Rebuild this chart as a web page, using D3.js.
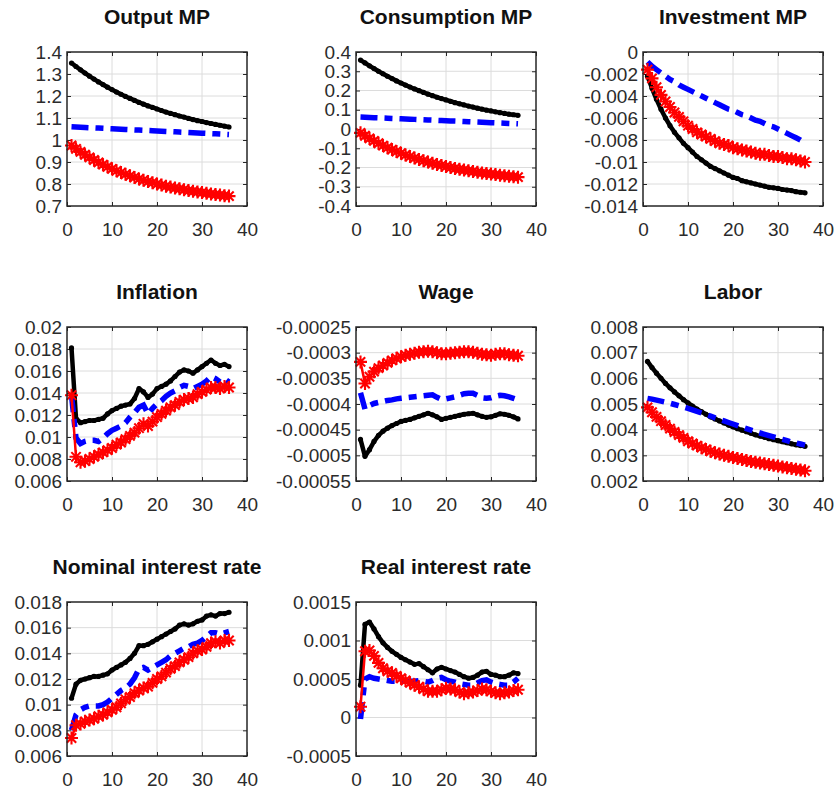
<!DOCTYPE html>
<html>
<head>
<meta charset="utf-8">
<script src="https://cdn.jsdelivr.net/npm/d3@7"></script>
<style>
  body { margin: 0; background: #fff; }
  svg text { font-family: "Liberation Sans", Arial, sans-serif; }
</style>
</head>
<body>
<div id="chart"></div>
<script>
/* Impulse responses, three model variants, 3x3 grid of small panels */

// periods after the shock
const horizon = [1, 2, 3, 4, 5, 6, 7, 8, 9, 10, 11, 12, 13, 14, 15, 16, 17, 18,
                 19, 20, 21, 22, 23, 24, 25, 26, 27, 28, 29, 30, 31, 32, 33, 34, 35, 36];
const xTicks = [0, 10, 20, 30, 40];

// ---- Output MP
const outputTicks = [0.7, 0.8, 0.9, 1, 1.1, 1.2, 1.3, 1.4];
const outputLabels = ["0.7", "0.8", "0.9", "1", "1.1", "1.2", "1.3", "1.4"];
const outputBlack = [1.350, 1.334, 1.319, 1.304, 1.290, 1.277, 1.264, 1.252, 1.240, 1.229, 1.218, 1.208, 1.198, 1.189, 1.180, 1.171, 1.163, 1.155,
                     1.148, 1.141, 1.134, 1.127, 1.121, 1.115, 1.109, 1.104, 1.098, 1.093, 1.088, 1.084, 1.079, 1.075, 1.071, 1.067, 1.063, 1.059];
const outputBlue = [1.060, 1.059, 1.058, 1.057, 1.056, 1.055, 1.054, 1.053, 1.052, 1.051, 1.050, 1.049, 1.048, 1.047, 1.046, 1.045, 1.044, 1.043,
                    1.042, 1.041, 1.040, 1.039, 1.038, 1.037, 1.036, 1.035, 1.034, 1.033, 1.032, 1.031, 1.030, 1.029, 1.028, 1.027, 1.026, 1.025];
const outputRed = [0.975, 0.960, 0.946, 0.933, 0.921, 0.909, 0.898, 0.888, 0.878, 0.869, 0.860, 0.852, 0.844, 0.837, 0.830, 0.823, 0.817, 0.811,
                   0.806, 0.800, 0.795, 0.790, 0.786, 0.782, 0.778, 0.774, 0.770, 0.767, 0.764, 0.761, 0.758, 0.755, 0.752, 0.750, 0.747, 0.745];

// ---- Consumption MP
const consTicks = [-0.4, -0.3, -0.2, -0.1, 0, 0.1, 0.2, 0.3, 0.4];
const consLabels = ["-0.4", "-0.3", "-0.2", "-0.1", "0", "0.1", "0.2", "0.3", "0.4"];
const consBlack = [0.358, 0.343, 0.328, 0.314, 0.300, 0.287, 0.274, 0.262, 0.250, 0.239, 0.228, 0.218, 0.208, 0.199, 0.190, 0.181, 0.173, 0.165,
                   0.158, 0.151, 0.144, 0.137, 0.131, 0.125, 0.119, 0.114, 0.108, 0.103, 0.098, 0.094, 0.089, 0.085, 0.081, 0.077, 0.074, 0.071];
const consBlue = [0.062, 0.061, 0.060, 0.059, 0.058, 0.057, 0.056, 0.055, 0.054, 0.053, 0.052, 0.051, 0.050, 0.049, 0.048, 0.047, 0.046, 0.045,
                  0.044, 0.043, 0.042, 0.041, 0.040, 0.039, 0.038, 0.037, 0.036, 0.035, 0.034, 0.033, 0.032, 0.031, 0.030, 0.029, 0.028, 0.027];
const consRed = [-0.020, -0.035, -0.049, -0.062, -0.074, -0.086, -0.097, -0.107, -0.117, -0.126, -0.135, -0.143, -0.151, -0.158, -0.165, -0.172, -0.178, -0.184,
                 -0.189, -0.195, -0.200, -0.205, -0.209, -0.213, -0.217, -0.221, -0.225, -0.228, -0.231, -0.234, -0.237, -0.240, -0.243, -0.245, -0.248, -0.250];

// ---- Investment MP
const invTicks = [-0.014, -0.012, -0.01, -0.008, -0.006, -0.004, -0.002, 0];
const invLabels = ["-0.014", "-0.012", "-0.01", "-0.008", "-0.006", "-0.004", "-0.002", "0"];
const invBlack = [-0.0022, -0.0033, -0.0043, -0.0052, -0.0060, -0.0067, -0.0073, -0.0078, -0.0083, -0.0087, -0.0091, -0.0095, -0.0098, -0.0101, -0.0104, -0.0106, -0.0108, -0.0110,
                  -0.0112, -0.0114, -0.0115, -0.0117, -0.0118, -0.0119, -0.0120, -0.0121, -0.0122, -0.0123, -0.01235, -0.0124, -0.0125, -0.01255, -0.0126, -0.0127, -0.01275, -0.0128];
const invBlue = [-0.0009, -0.0013, -0.0016, -0.0019, -0.0022, -0.0025, -0.0027, -0.0030, -0.0032, -0.0034, -0.0036, -0.0038, -0.0040, -0.0042, -0.0044, -0.0046, -0.0048, -0.0050,
                 -0.0052, -0.0053, -0.0055, -0.0057, -0.0058, -0.0060, -0.0062, -0.0063, -0.0065, -0.0067, -0.0068, -0.0070, -0.0072, -0.0074, -0.0076, -0.0078, -0.0080, -0.0083];
const invRed = [-0.0016, -0.0024, -0.0032, -0.0039, -0.0045, -0.0050, -0.0055, -0.0059, -0.0063, -0.0067, -0.0070, -0.0073, -0.0075, -0.0077, -0.0079, -0.0081, -0.0083, -0.0084,
                -0.0085, -0.0087, -0.0088, -0.0089, -0.0090, -0.0091, -0.0092, -0.0093, -0.0093, -0.0094, -0.0095, -0.0095, -0.0096, -0.0097, -0.0097, -0.0098, -0.0099, -0.0100];

// ---- Inflation
const inflTicks = [0.006, 0.008, 0.01, 0.012, 0.014, 0.016, 0.018, 0.02];
const inflLabels = ["0.006", "0.008", "0.01", "0.012", "0.014", "0.016", "0.018", "0.02"];
const inflBlack = [0.0181, 0.0117, 0.0113, 0.0114, 0.0115, 0.0115, 0.0116, 0.0117, 0.0121, 0.0124, 0.0126, 0.0128, 0.0129, 0.0130, 0.0135, 0.0144, 0.0141, 0.0136,
                   0.0139, 0.0144, 0.0146, 0.0148, 0.0151, 0.0155, 0.0159, 0.0161, 0.0160, 0.0158, 0.0161, 0.0164, 0.0167, 0.0170, 0.0167, 0.0165, 0.0166, 0.0164];
const inflBlue = [0.0138, 0.0099, 0.0094, 0.0096, 0.0097, 0.0097, 0.0096, 0.0099, 0.0103, 0.0106, 0.0108, 0.0110, 0.0113, 0.0118, 0.0122, 0.0127, 0.0129, 0.0121,
                  0.0126, 0.0130, 0.0133, 0.0137, 0.0140, 0.0142, 0.0145, 0.0147, 0.0146, 0.0144, 0.0146, 0.0148, 0.0151, 0.0155, 0.0153, 0.0150, 0.0153, 0.0150];
const inflRed = [0.0138, 0.0082, 0.0077, 0.0078, 0.0080, 0.0082, 0.0084, 0.0086, 0.0088, 0.0090, 0.0093, 0.0095, 0.0098, 0.0101, 0.0104, 0.0108, 0.0112, 0.0110,
                 0.0114, 0.0118, 0.0121, 0.0124, 0.0127, 0.0129, 0.0132, 0.0134, 0.0135, 0.0136, 0.0139, 0.0141, 0.0143, 0.0145, 0.0145, 0.0144, 0.0146, 0.0145];

// ---- Wage
const wageTicks = [-0.00055, -0.0005, -0.00045, -0.0004, -0.00035, -0.0003, -0.00025];
const wageLabels = ["-0.00055", "-0.0005", "-0.00045", "-0.0004", "-0.00035", "-0.0003", "-0.00025"];
const wageBlack = [-0.000469, -0.000502, -0.000489, -0.000473, -0.000461, -0.000453, -0.000447, -0.000442, -0.000438, -0.000434, -0.000432, -0.000430, -0.000427, -0.000424, -0.000421, -0.000418, -0.000421, -0.000425,
                   -0.000430, -0.000428, -0.000426, -0.000424, -0.000422, -0.000420, -0.000419, -0.000418, -0.000421, -0.000424, -0.000426, -0.000425, -0.000422, -0.000419, -0.000420, -0.000422, -0.000425, -0.000429];
const wageBlue = [-0.000378, -0.000410, -0.000403, -0.000399, -0.000397, -0.000395, -0.000393, -0.000392, -0.000390, -0.000389, -0.000388, -0.000387, -0.000386, -0.000385, -0.000384, -0.000383, -0.000382, -0.000387,
                  -0.000391, -0.000390, -0.000388, -0.000386, -0.000383, -0.000380, -0.000379, -0.000379, -0.000383, -0.000388, -0.000389, -0.000388, -0.000385, -0.000383, -0.000384, -0.000386, -0.000389, -0.000392];
const wageRed = [-0.000318, -0.000360, -0.000347, -0.000337, -0.000330, -0.000325, -0.000320, -0.000315, -0.000311, -0.000308, -0.000305, -0.000303, -0.000301, -0.000299, -0.000298, -0.000297, -0.000298, -0.000300,
                 -0.000302, -0.000302, -0.000301, -0.000300, -0.000299, -0.000298, -0.000298, -0.000299, -0.000301, -0.000303, -0.000304, -0.000305, -0.000303, -0.000302, -0.000302, -0.000304, -0.000305, -0.000306];

// ---- Labor
const laborTicks = [0.002, 0.003, 0.004, 0.005, 0.006, 0.007, 0.008];
const laborLabels = ["0.002", "0.003", "0.004", "0.005", "0.006", "0.007", "0.008"];
const laborBlack = [0.00666, 0.00642, 0.00620, 0.00600, 0.00580, 0.00563, 0.00547, 0.00532, 0.00517, 0.00504, 0.00492, 0.00480, 0.00470, 0.00460, 0.00450, 0.00442, 0.00434, 0.00426,
                    0.00418, 0.00411, 0.00404, 0.00398, 0.00392, 0.00386, 0.00380, 0.00375, 0.00370, 0.00365, 0.00361, 0.00357, 0.00353, 0.00349, 0.00345, 0.00341, 0.00338, 0.00335];
const laborBlue = [0.00522, 0.00519, 0.00515, 0.00511, 0.00507, 0.00503, 0.00498, 0.00493, 0.00488, 0.00483, 0.00477, 0.00471, 0.00465, 0.00459, 0.00453, 0.00446, 0.00440, 0.00434,
                   0.00428, 0.00422, 0.00416, 0.00410, 0.00404, 0.00398, 0.00392, 0.00387, 0.00382, 0.00377, 0.00372, 0.00367, 0.00362, 0.00357, 0.00352, 0.00348, 0.00344, 0.00340];
const laborRed = [0.00487, 0.00468, 0.00450, 0.00433, 0.00418, 0.00404, 0.00391, 0.00379, 0.00368, 0.00355, 0.00346, 0.00338, 0.00330, 0.00323, 0.00316, 0.00310, 0.00305, 0.00300,
                  0.00296, 0.00292, 0.00288, 0.00284, 0.00280, 0.00276, 0.00273, 0.00270, 0.00267, 0.00264, 0.00261, 0.00258, 0.00255, 0.00252, 0.00249, 0.00246, 0.00243, 0.00240];

// ---- Nominal interest rate
const nomTicks = [0.006, 0.008, 0.01, 0.012, 0.014, 0.016, 0.018];
const nomLabels = ["0.006", "0.008", "0.01", "0.012", "0.014", "0.016", "0.018"];
const nomBlack = [0.0105, 0.0116, 0.0119, 0.0120, 0.0121, 0.0122, 0.0122, 0.0123, 0.0124, 0.0127, 0.0129, 0.0131, 0.0133, 0.0136, 0.0140, 0.0146, 0.0146, 0.0147,
                  0.0149, 0.0151, 0.0153, 0.0155, 0.0157, 0.0159, 0.0162, 0.0163, 0.0162, 0.0163, 0.0165, 0.0166, 0.0169, 0.0170, 0.0169, 0.0171, 0.0171, 0.0172];
const nomBlue = [0.0080, 0.0092, 0.0096, 0.0098, 0.0099, 0.0099, 0.0099, 0.0100, 0.0102, 0.0105, 0.0108, 0.0111, 0.0113, 0.0116, 0.0121, 0.0128, 0.0129, 0.0127,
                 0.0129, 0.0131, 0.0133, 0.0135, 0.0138, 0.0140, 0.0142, 0.0144, 0.0145, 0.0147, 0.0148, 0.0150, 0.0153, 0.0156, 0.0156, 0.0155, 0.0156, 0.0157];
const nomRed = [0.0074, 0.0084, 0.0085, 0.0087, 0.0088, 0.0089, 0.0091, 0.0092, 0.0094, 0.0096, 0.0098, 0.0101, 0.0104, 0.0106, 0.0109, 0.0111, 0.0113, 0.0114,
                0.0117, 0.0120, 0.0122, 0.0125, 0.0128, 0.0130, 0.0133, 0.0135, 0.0137, 0.0140, 0.0142, 0.0143, 0.0145, 0.0148, 0.0149, 0.0148, 0.0150, 0.0150];

// ---- Real interest rate
const realTicks = [-0.0005, 0, 0.0005, 0.001, 0.0015];
const realLabels = ["-0.0005", "0", "0.0005", "0.001", "0.0015"];
const realBlack = [0.00042, 0.00121, 0.00124, 0.00115, 0.00105, 0.00097, 0.00091, 0.00086, 0.00082, 0.00078, 0.00075, 0.00072, 0.00069, 0.00070, 0.00066, 0.00062, 0.00058, 0.00063,
                   0.00065, 0.00063, 0.00061, 0.00059, 0.00056, 0.00053, 0.00051, 0.00052, 0.00055, 0.00059, 0.00060, 0.00056, 0.00055, 0.00053, 0.00053, 0.00055, 0.00058, 0.00057];
const realBlue = [-0.00002, 0.00050, 0.00053, 0.00051, 0.00050, 0.00049, 0.00048, 0.00047, 0.00047, 0.00047, 0.00047, 0.00047, 0.00047, 0.00048, 0.00047, 0.00046, 0.00048, 0.00051,
                  0.00052, 0.00049, 0.00047, 0.00046, 0.00044, 0.00043, 0.00042, 0.00042, 0.00045, 0.00048, 0.00049, 0.00046, 0.00044, 0.00043, 0.00042, 0.00042, 0.00046, 0.00051];
const realRed = [0.00014, 0.00086, 0.00087, 0.00080, 0.00071, 0.00064, 0.00060, 0.00058, 0.00054, 0.00051, 0.00048, 0.00045, 0.00042, 0.00040, 0.00037, 0.00034, 0.00034, 0.00034,
                 0.00036, 0.00038, 0.00037, 0.00036, 0.00033, 0.00031, 0.00032, 0.00033, 0.00035, 0.00037, 0.00036, 0.00034, 0.00032, 0.00031, 0.00032, 0.00033, 0.00035, 0.00036];

const titles = ["Output MP", "Consumption MP", "Investment MP", "Inflation", "Wage", "Labor",
                "Nominal interest rate", "Real interest rate"];

const panels = [
    {ticks: outputTicks, labels: outputLabels, black: outputBlack, blue: outputBlue, red: outputRed},
    {ticks: consTicks, labels: consLabels, black: consBlack, blue: consBlue, red: consRed},
    {ticks: invTicks, labels: invLabels, black: invBlack, blue: invBlue, red: invRed},
    {ticks: inflTicks, labels: inflLabels, black: inflBlack, blue: inflBlue, red: inflRed},
    {ticks: wageTicks, labels: wageLabels, black: wageBlack, blue: wageBlue, red: wageRed},
    {ticks: laborTicks, labels: laborLabels, black: laborBlack, blue: laborBlue, red: laborRed},
    {ticks: nomTicks, labels: nomLabels, black: nomBlack, blue: nomBlue, red: nomRed},
    {ticks: realTicks, labels: realLabels, black: realBlack, blue: realBlue, red: realRed}
].map((p, i) => ({...p, title: titles[i]}));

const width = 836, height = 790;
const boxW = 180, boxH = 154;
const colX = [67, 356, 643], rowY = [52, 327, 602]; // upper left corner of each plot box

let svg = d3.select("#chart")
    .append("svg")
    .attr("width", width)
    .attr("height", height);

let x = d3.scaleLinear()
    .domain([0, 40])
    .range([0, boxW]);

// matlab style '*' marker : a plus and a cross on top of each other
const star = (r) => {
    const d = r * 0.72;
    return `M${-r},0L${r},0M0,${-r}L0,${r}M${-d},${-d}L${d},${d}M${-d},${d}L${d},${-d}`;
};

panels.forEach((p, i) => {
    let g = svg.append("g")
        .attr("transform", `translate(${colX[i % 3]},${rowY[Math.floor(i / 3)]})`);

    let y = d3.scaleLinear()
        .domain(d3.extent(p.ticks))
        .range([boxH, 0]);

    // grid
    g.append("g").selectAll("line")
        .data(p.ticks.slice(1, -1))
        .join("line")
        .attr("x1", 0).attr("x2", boxW)
        .attr("y1", d => y(d)).attr("y2", d => y(d))
        .attr("stroke", "#dcdcdc");
    g.append("g").selectAll("line")
        .data(xTicks.slice(1, -1))
        .join("line")
        .attr("y1", 0).attr("y2", boxH)
        .attr("x1", d => x(d)).attr("x2", d => x(d))
        .attr("stroke", "#dcdcdc");

    // axes, ticks pointing inwards
    let yAxis = g.append("g")
        .call(d3.axisLeft(y).tickValues(p.ticks).tickFormat((d, k) => p.labels[k])
            .tickSize(-4).tickPadding(5));
    let yAxisR = g.append("g")
        .attr("transform", `translate(${boxW},0)`)
        .call(d3.axisRight(y).tickValues(p.ticks).tickFormat("").tickSize(-4));
    let xAxis = g.append("g")
        .attr("transform", `translate(0,${boxH})`)
        .call(d3.axisBottom(x).tickValues(xTicks).tickSize(-4).tickPadding(17));
    let xAxisT = g.append("g")
        .call(d3.axisTop(x).tickValues(xTicks).tickFormat("").tickSize(-4));

    [yAxis, yAxisR, xAxis, xAxisT].forEach(a => {
        a.select(".domain").remove();
        a.selectAll(".tick line").attr("stroke", "#262626");
        a.selectAll("text")
            .attr("font-size", 19)
            .attr("fill", "#2b2b2b");
    });

    // series
    let line = d3.line()
        .x((d, k) => x(horizon[k]))
        .y(d => y(d));

    g.append("path")
        .datum(p.black)
        .attr("fill", "none")
        .attr("stroke", "#000")
        .attr("stroke-width", 4.5)
        .attr("stroke-linejoin", "round")
        .attr("d", line);
    g.append("g").selectAll("circle")
        .data(p.black)
        .join("circle")
        .attr("cx", (d, k) => x(horizon[k]))
        .attr("cy", d => y(d))
        .attr("r", 2.6)
        .attr("fill", "#000");

    g.append("path")
        .datum(p.blue)
        .attr("fill", "none")
        .attr("stroke", "#0000ff")
        .attr("stroke-width", 5.5)
        .attr("stroke-dasharray", "17,7,8,7")
        .attr("d", line);

    g.append("path")
        .datum(p.red)
        .attr("fill", "none")
        .attr("stroke", "#ff0000")
        .attr("stroke-width", 2.5)
        .attr("d", line);
    g.append("g").selectAll("path")
        .data(p.red)
        .join("path")
        .attr("transform", (d, k) => `translate(${x(horizon[k])},${y(d)})`)
        .attr("d", star(6.5))
        .attr("stroke", "#ff0000")
        .attr("stroke-width", 2.1)
        .attr("fill", "none");

    // frame
    g.append("rect")
        .attr("width", boxW)
        .attr("height", boxH)
        .attr("fill", "none")
        .attr("stroke", "#262626")
        .attr("stroke-width", 1.5);

    g.append("text")
        .attr("x", boxW / 2)
        .attr("y", -28)
        .attr("text-anchor", "middle")
        .attr("font-size", 21)
        .attr("font-weight", "bold")
        .attr("fill", "#111")
        .text(p.title);
});
</script>
</body>
</html>
